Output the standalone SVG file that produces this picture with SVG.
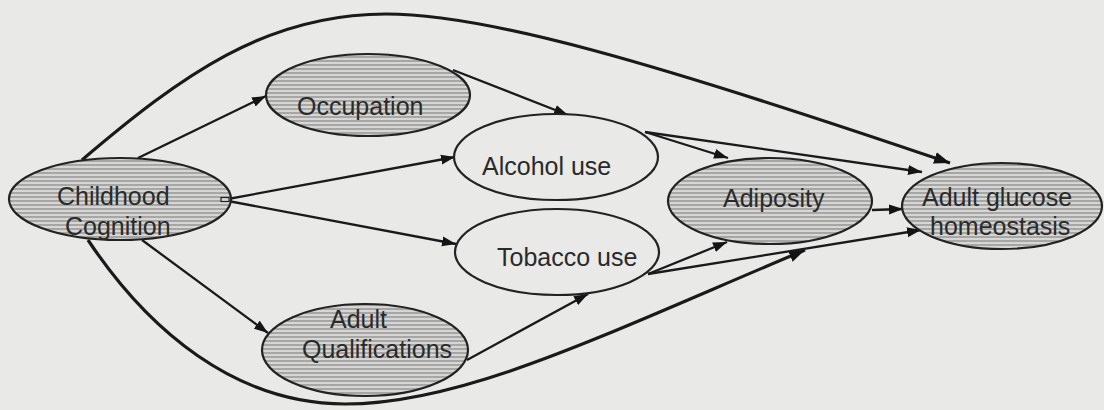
<svg xmlns="http://www.w3.org/2000/svg" width="1104" height="410" viewBox="0 0 1104 410">
  <style>
    .bg { fill: #e9e9e8; }
    .node { stroke: #222222; stroke-width: 2.2; }
    .shaded { fill: url(#stripes); }
    .plain { fill: #e9e9e8; }
    .label { font-family: "Liberation Sans", Arial, sans-serif; font-size: 25px; fill: #2a2a2a; }
    .edge { fill: none; stroke: #1a1a1a; stroke-width: 2.3; marker-end: url(#arrow); }
    .edge.heavy { stroke-width: 3.2; marker-end: url(#arrowHeavy); }
  </style>
  <defs>
    <pattern id="stripes" patternUnits="userSpaceOnUse" width="8" height="4">
      <rect width="8" height="4" fill="#d6d6d5"/>
      <rect y="0" width="8" height="2" fill="#a6a6a5"/>
    </pattern>
    <marker id="arrow" markerUnits="userSpaceOnUse" markerWidth="15" markerHeight="11" refX="14" refY="5.5" orient="auto">
      <path d="M0,0.5 L14,5.5 L0,10.5 z" fill="#141414"/>
    </marker>
    <marker id="arrowHeavy" markerUnits="userSpaceOnUse" markerWidth="17" markerHeight="13" refX="16" refY="6.5" orient="auto">
      <path d="M0,0.5 L16,6.5 L0,12.5 z" fill="#141414"/>
    </marker>
  </defs>

  <rect class="bg" x="0" y="0" width="1104" height="410"/>

  <!-- connectors -->
  <g id="connectors">
    <!-- direct paths from childhood cognition to glucose homeostasis -->
    <path class="edge heavy" d="M82,160 C182,75 266,14 386,14 C486,14 650,61 950,163"/>
    <path class="edge heavy" d="M88,240 C148,330 235,404 345,404 C465,404 605,334 805,250"/>
    <!-- childhood cognition outputs -->
    <path class="edge" d="M138,158 L266,96"/>
    <path class="edge" d="M228,199 L455,157"/>
    <path class="edge" d="M228,201 L456,244"/>
    <path class="edge" d="M142,240 L268,333"/>
    <!-- occupation / qualifications to behaviours -->
    <path class="edge" d="M453,70 L568,115"/>
    <path class="edge" d="M467,360 L588,294"/>
    <!-- behaviours to adiposity and glucose -->
    <path class="edge" d="M645,132 L728,158"/>
    <path class="edge" d="M645,132 L922,172"/>
    <path class="edge" d="M648,274 L727,242"/>
    <path class="edge" d="M648,274 L921,230"/>
    <!-- adiposity to glucose -->
    <path class="edge" d="M872,210 L903,209"/>
  </g>

  <g id="childhood-cognition">
    <ellipse class="node shaded" cx="120" cy="199" rx="111" ry="41"/>
    <rect x="221" y="197.5" width="8" height="4" fill="#d6d6d5" stroke="#222222" stroke-width="1.2"/>
    <text class="label" x="57" y="205">Childhood</text>
    <text class="label" x="65" y="235">Cognition</text>
  </g>

  <g id="occupation">
    <ellipse class="node shaded" cx="368" cy="95" rx="102" ry="41"/>
    <text class="label" x="297" y="115">Occupation</text>
  </g>

  <g id="adult-qualifications">
    <ellipse class="node shaded" cx="365" cy="350" rx="103" ry="46"/>
    <text class="label" x="330" y="328">Adult</text>
    <text class="label" x="302" y="358">Qualifications</text>
  </g>

  <g id="alcohol-use">
    <ellipse class="node plain" cx="556" cy="157" rx="102" ry="43"/>
    <text class="label" x="482" y="175">Alcohol use</text>
  </g>

  <g id="tobacco-use">
    <ellipse class="node plain" cx="557" cy="252" rx="102" ry="43"/>
    <text class="label" x="497" y="266">Tobacco use</text>
  </g>

  <g id="adiposity">
    <ellipse class="node shaded" cx="770" cy="201" rx="102" ry="43"/>
    <text class="label" x="723" y="207">Adiposity</text>
  </g>

  <g id="adult-glucose-homeostasis">
    <ellipse class="node shaded" cx="1002" cy="206" rx="100" ry="43"/>
    <text class="label" x="922" y="206">Adult glucose</text>
    <text class="label" x="930" y="235">homeostasis</text>
  </g>
</svg>
